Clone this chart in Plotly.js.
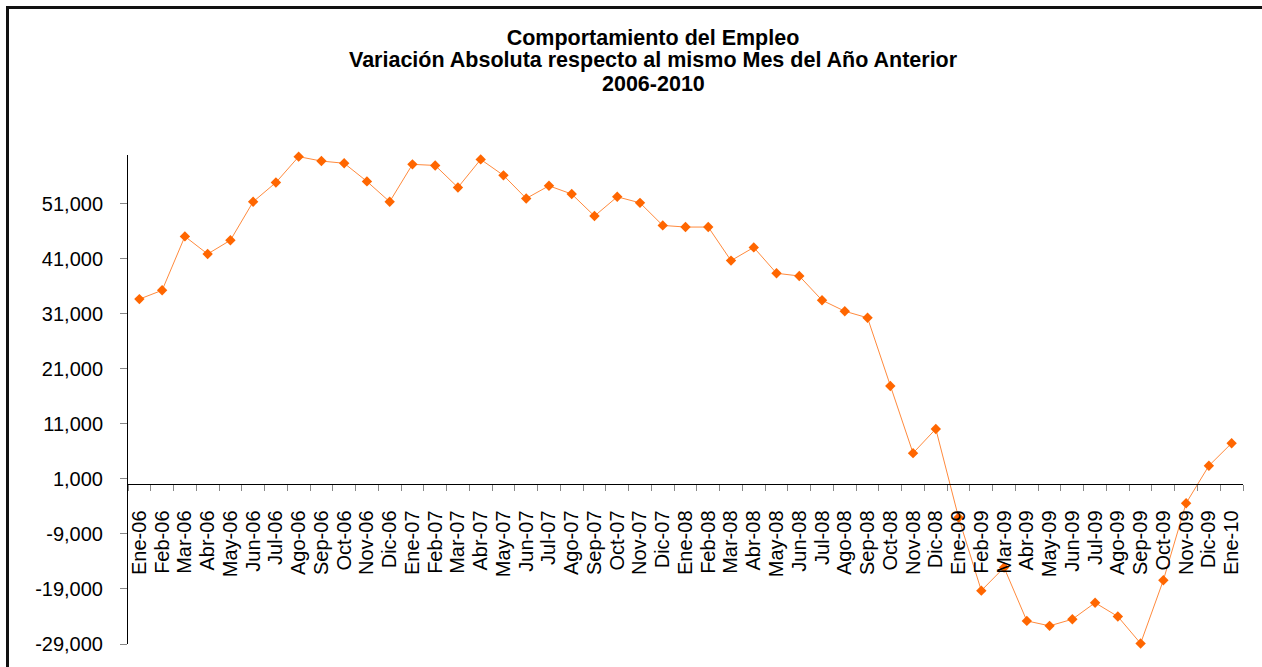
<!DOCTYPE html>
<html>
<head>
<meta charset="utf-8">
<script src="https://cdn.plot.ly/plotly-3.0.1.min.js"></script>
<style>
  html, body { margin: 0; padding: 0; background: #fff; }
  #wrap { position: relative; width: 1262px; height: 667px; overflow: hidden; }
  #chart { width: 1262px; height: 667px; }
  #frame { position: absolute; left: 6px; top: 6px; width: 1300px; height: 700px;
           border-left: 3px solid #111; border-top: 3px solid #111; pointer-events: none; }
</style>
</head>
<body>
<div id="wrap">
  <div id="chart"></div>
  <div id="frame"></div>
</div>
<script>
const months = ["Ene-06","Feb-06","Mar-06","Abr-06","May-06","Jun-06","Jul-06","Ago-06","Sep-06","Oct-06","Nov-06","Dic-06",
  "Ene-07","Feb-07","Mar-07","Abr-07","May-07","Jun-07","Jul-07","Ago-07","Sep-07","Oct-07","Nov-07","Dic-07",
  "Ene-08","Feb-08","Mar-08","Abr-08","May-08","Jun-08","Jul-08","Ago-08","Sep-08","Oct-08","Nov-08","Dic-08",
  "Ene-09","Feb-09","Mar-09","Abr-09","May-09","Jun-09","Jul-09","Ago-09","Sep-09","Oct-09","Nov-09","Dic-09",
  "Ene-10"];

const variacion = [33700, 35300, 45100, 41900, 44400, 51400, 54900, 59600, 58800, 58400, 55100, 51400,
  58200, 58000, 54000, 59100, 56200, 52000, 54300, 52800, 48800, 52300, 51200, 47100,
  46800, 46800, 40700, 43100, 38400, 37900, 33500, 31500, 30300, 17900, 5700, 10100,
  -6000, -19300, -15100, -24800, -25700, -24500, -21500, -24000, -28900, -17400, -3400, 3400,
  7500];

const yTickVals = [-29000, -19000, -9000, 1000, 11000, 21000, 31000, 41000, 51000];
const yTickText = ["-29,000", "-19,000", "-9,000", "1,000", "11,000", "21,000", "31,000", "41,000", "51,000"];

const titleLines = ["Comportamiento del Empleo",
  "Variación Absoluta respecto al mismo Mes del Año Anterior",
  "2006-2010"];

const yMin = -29000, yMax = 59900;
const font = "Liberation Sans, Arial, sans-serif";

// layout geometry (pixels)
const W = 1262, H = 667;
const M = { l: 128, r: 19, t: 155, b: 23 };
const plotH = H - M.t - M.b;
const plotW = W - M.l - M.r;
const titleCx = 653;
const titleYs = [37, 60, 84];
const toPaperX = px => (px - M.l) / plotW;
const toPaperY = py => (H - M.b - py) / plotH;

const trace = {
  x: months,
  y: variacion,
  type: "scatter",
  mode: "lines+markers",
  line: { color: "#FF8A3D", width: 1 },
  marker: { symbol: "diamond", color: "#FF6600", size: 8 },
  cliponaxis: false,
  hoverinfo: "x+y"
};

const titleFont = { family: font, size: 21.5, color: "#000", weight: "bold" };

const layout = {
  width: W,
  height: H,
  margin: M,
  paper_bgcolor: "#fff",
  plot_bgcolor: "rgba(0,0,0,0)",
  showlegend: false,
  font: { family: font, color: "#000" },
  title: {
    text: titleLines[0],
    font: titleFont,
    xref: "container", yref: "container",
    x: titleCx / W, xanchor: "center",
    y: 1 - titleYs[0] / H, yanchor: "middle"
  },
  annotations: [1, 2].map(i => ({
    text: titleLines[i],
    xref: "paper", yref: "paper",
    x: toPaperX(titleCx), y: toPaperY(titleYs[i]),
    xanchor: "center", yanchor: "middle",
    showarrow: false,
    font: titleFont
  })),
  xaxis: {
    type: "category",
    range: [-0.5, months.length - 0.5],
    anchor: "free",
    position: (0 - yMin) / (yMax - yMin),
    showline: true, linecolor: "#000", linewidth: 1,
    showgrid: false, zeroline: false,
    tickmode: "linear", tick0: 0, dtick: 1,
    ticks: "outside", tickson: "boundaries", ticklen: 6, tickcolor: "#888", tickwidth: 1,
    tickangle: -90,
    ticklabelstandoff: 17,
    tickfont: { family: font, size: 20, color: "#000" },
    fixedrange: true
  },
  yaxis: {
    range: [yMin, yMax],
    showline: true, linecolor: "#000", linewidth: 1,
    showgrid: false, zeroline: false,
    tickmode: "array", tickvals: yTickVals, ticktext: yTickText,
    ticks: "outside", ticklen: 7, tickcolor: "#888", tickwidth: 1,
    tickfont: { family: font, size: 20, color: "#000" },
    ticklabelstandoff: 13,
    fixedrange: true
  }
};

Plotly.newPlot("chart", [trace], layout, { staticPlot: true, displayModeBar: false });
</script>
</body>
</html>
